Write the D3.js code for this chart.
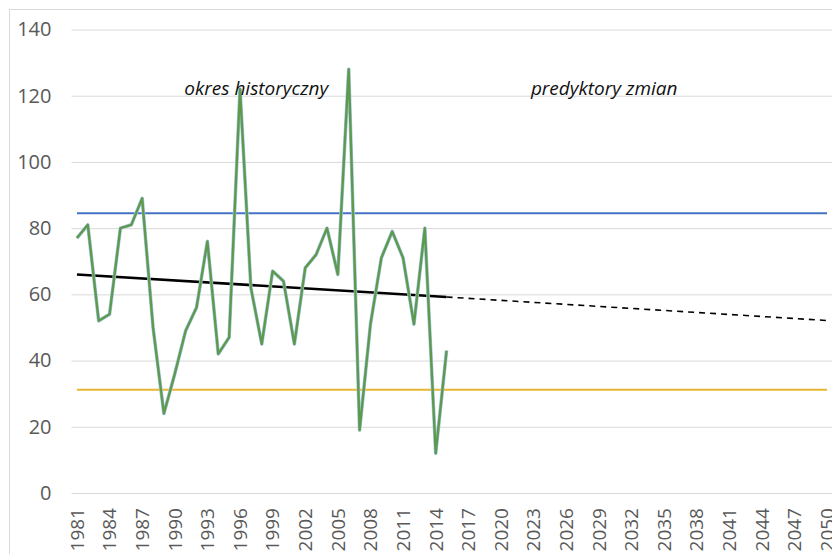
<!DOCTYPE html>
<html>
<head>
<meta charset="utf-8">
<script src="https://cdn.jsdelivr.net/npm/d3@7"></script>
<style>
  body { margin: 0; background: #fff; }
  svg { display: block; font-family: "Open Sans", sans-serif; }
</style>
</head>
<body>
<svg id="chart"></svg>
<script>
// years on the category axis
const years = d3.range(1981, 2051);
const histYears = d3.range(1981, 2016);

// observed series 1981-2015
const values = [77, 81, 52, 54, 80, 81, 89, 50, 24, 36,
                49, 56, 76, 42, 47, 122, 62, 45, 67, 64,
                45, 68, 72, 80, 66, 128, 19, 51, 71, 79,
                71, 51, 80, 12, 43];

// linear trend: solid over history, dashed as projection
const trendYears = [1981, 2015, 2050];
const trendValues = [66, 59.2, 52.1];

// horizontal reference levels
const upperLevel = 84.5;
const lowerLevel = 31.2;

const yTicks = [0, 20, 40, 60, 80, 100, 120, 140];
const labels = [
  { text: "okres historyczny", year: 1997.5, value: 120.3 },
  { text: "predyktory zmian", year: 2029.5, value: 120.3 }
];

const width = 832, height = 554;
const marginLeft = 71.5, plotRight = 832.5;

const svg = d3.select("#chart")
    .attr("width", width)
    .attr("height", height)
    .attr("viewBox", [0, 0, width, height]);

// chart frame
svg.append("rect")
    .attr("x", 9.5).attr("y", 9.5)
    .attr("width", width).attr("height", height)
    .attr("fill", "none")
    .attr("stroke", "#d9d9d9");

const x = d3.scaleBand(years, [marginLeft, plotRight]);
const cx = d => x(Math.floor(d)) + x.bandwidth() / 2 + (d % 1) * x.step();
const y = d3.scaleLinear([0, 140], [493, 29.5]);

// grid + y labels
const yAxis = d3.axisLeft(y).tickValues(yTicks).tickSize(0).tickPadding(20);
svg.append("g")
    .attr("transform", `translate(${marginLeft},0)`)
    .call(yAxis)
    .call(g => g.select(".domain").remove())
    .call(g => g.selectAll(".tick text")
        .attr("fill", "#595959")
        .style("font-size", "20px")
        .style("font-family", "'Open Sans', sans-serif"))
    .call(g => g.selectAll(".tick line").clone()
        .attr("x2", width)
        .attr("stroke", "#d9d9d9")
        .attr("stroke-width", 1));

// x axis labels every 3 years, rotated
const xAxis = d3.axisBottom(x)
    .tickValues(years.filter((d, i) => i % 3 === 0))
    .tickSize(0).tickPadding(0);
svg.append("g")
    .attr("transform", `translate(0,${y(0) + 15})`)
    .call(xAxis)
    .call(g => g.select(".domain").remove())
    .call(g => g.selectAll(".tick text")
        .attr("transform", "rotate(-90)")
        .attr("text-anchor", "end")
        .attr("x", 0)
        .attr("y", 0)
        .attr("dy", "0.36em")
        .attr("fill", "#595959")
        .style("font-size", "19px")
        .style("font-family", "'Open Sans', sans-serif"));

// reference levels
svg.append("line")
    .attr("x1", cx(years[0])).attr("x2", cx(years[years.length - 1]))
    .attr("y1", y(upperLevel)).attr("y2", y(upperLevel))
    .attr("stroke", "#4472c4").attr("stroke-width", 2);
svg.append("line")
    .attr("x1", cx(years[0])).attr("x2", cx(years[years.length - 1]))
    .attr("y1", y(lowerLevel)).attr("y2", y(lowerLevel))
    .attr("stroke", "#e8b630").attr("stroke-width", 2);

// trend
const trend = trendYears.map((d, i) => [d, trendValues[i]]);
const tline = d3.line().x(d => cx(d[0])).y(d => y(d[1]));
svg.append("path")
    .attr("d", tline(trend.slice(1)))
    .attr("fill", "none").attr("stroke", "#000")
    .attr("stroke-width", 1.6).attr("stroke-dasharray", "6,5");
svg.append("path")
    .attr("d", tline(trend.slice(0, 2)))
    .attr("fill", "none").attr("stroke", "#000")
    .attr("stroke-width", 2.6);

// observed series
const line = d3.line()
    .x((d, i) => cx(histYears[i]))
    .y(d => y(d));
svg.append("path")
    .attr("d", line(values))
    .attr("fill", "none").attr("stroke", "#a9c8e8")
    .attr("stroke-width", 3.6).attr("stroke-linejoin", "round");
svg.append("path")
    .attr("d", line(values))
    .attr("fill", "none").attr("stroke", "#5e9a4c")
    .attr("stroke-width", 2.4).attr("stroke-linejoin", "round");

// annotations
svg.append("g")
  .selectAll("text")
  .data(labels)
  .join("text")
    .attr("x", d => cx(d.year))
    .attr("y", d => y(d.value))
    .attr("text-anchor", "middle")
    .attr("fill", "#111")
    .style("font-style", "italic")
    .style("font-size", "19px")
    .text(d => d.text);
</script>
</body>
</html>
